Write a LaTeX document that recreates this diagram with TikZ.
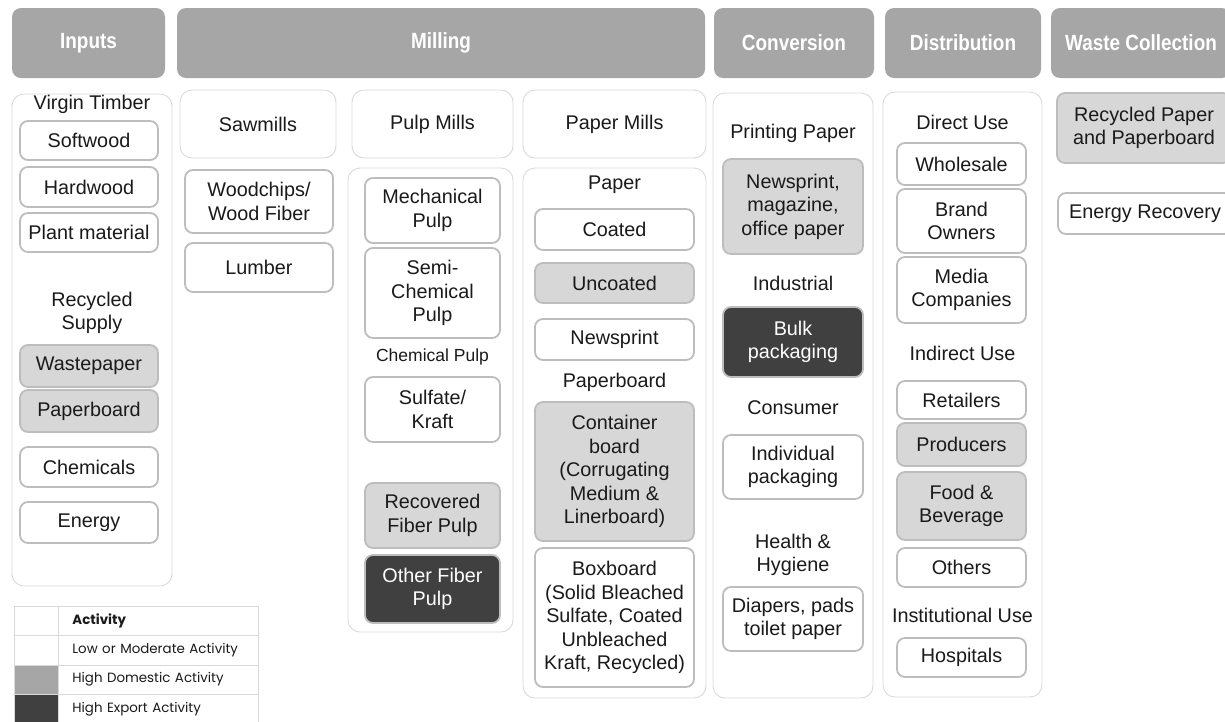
\documentclass[tikz,border=0pt]{standalone}
\usepackage{fontspec}
\setmainfont{Liberation Sans}
\newfontfamily\headfont[FakeStretch=0.86]{Liberation Sans}
\newfontfamily\legfont{Poppins}
\usepackage{xcolor}

\definecolor{ink}{HTML}{1A1A1A}
\definecolor{headgray}{HTML}{A6A6A6}
\definecolor{colline}{HTML}{DADADA}
\definecolor{boxline}{HTML}{BDBDBD}
\definecolor{domgray}{HTML}{D7D7D7}
\definecolor{expgray}{HTML}{404040}
\definecolor{keyline}{HTML}{D9D9D9}

\begin{document}
\begin{tikzpicture}[x=1pt, y=-1pt,
    every node/.style={font=\fontsize{19.8}{23.5}\selectfont, text=ink, inner sep=0pt, align=center},
    head/.style={fill=headgray, rounded corners=9pt, text=white, minimum height=70pt,
                 font=\headfont\bfseries\fontsize{22}{26}\selectfont},
    col/.style={draw=colline, line width=0.9pt, rounded corners=12pt, fill=white},
    item/.style={draw=boxline, line width=1.8pt, rounded corners=8pt, fill=white},
    dom/.style={item, fill=domgray},
    expo/.style={item, fill=expgray, text=white},
    small/.style={font=\fontsize{17.5}{21}\selectfont},
    key/.style={draw=keyline, line width=0.8pt, minimum height=29.3pt, anchor=north west,
                font=\legfont\fontsize{13.4}{15}\selectfont, text=ink}]
    \useasboundingbox (0,0) rectangle (1225,721);
    \clip (0,0) rectangle (1225,721);

    % stage headers
    \node[head, minimum width=153pt] (hIn)    at (88.5,43)  {Inputs};
    \node[head, minimum width=528pt] (hMill)  at (441,43)   {Milling};
    \node[head, minimum width=160pt] (hConv)  at (794,43)   {Conversion};
    \node[head, minimum width=156pt] (hDist)  at (963,43)   {Distribution};
    \node[head, minimum width=180pt] (hWaste) at (1141,43)  {Waste Collection};

    % inputs
    \node[col, minimum width=160pt, minimum height=492pt] (cIn) at (92,340) {};
    \node (virgin) at (92,104) {Virgin Timber};
    \node[item, minimum width=138pt, minimum height=39pt] (soft)  at (89,140.5) {Softwood};
    \node[item, minimum width=138pt, minimum height=40pt] (hard)  at (89,187)   {Hardwood};
    \node[item, minimum width=138pt, minimum height=39pt] (plant) at (89,232.5) {Plant material};
    \node (recyc) at (92,313) {Recycled\\Supply};
    \node[dom,  minimum width=138pt, minimum height=42pt] (waste) at (89,366)   {Wastepaper};
    \node[dom,  minimum width=138pt, minimum height=42pt] (pboard) at (89,411)  {Paperboard};
    \node[item, minimum width=138pt, minimum height=40pt] (chem)  at (89,467)   {Chemicals};
    \node[item, minimum width=138pt, minimum height=41pt] (energy) at (89,522.5) {Energy};

    % sawmills
    \node[col, minimum width=156pt, minimum height=68pt] (sawHd) at (258,124) {Sawmills};
    \node[item, minimum width=148pt, minimum height=63pt] (chips)  at (259,201.5) {Woodchips/\\Wood Fiber};
    \node[item, minimum width=148pt, minimum height=49pt] (lumber) at (259,267.5) {Lumber};

    % pulp mills
    \node[col, minimum width=161pt, minimum height=68pt]  (pulpHd) at (432.5,124) {Pulp Mills};
    \node[col, minimum width=165pt, minimum height=464pt] (cPulp)  at (430.5,400) {};
    \node[item, minimum width=135pt, minimum height=65pt] (mech)  at (432.5,210.5) {Mechanical\\Pulp};
    \node[item, minimum width=135pt, minimum height=90pt] (semi)  at (432.5,293)   {Semi-\\Chemical\\Pulp};
    \node[small] (chemPulp) at (432.5,357) {Chemical Pulp};
    \node[item, minimum width=135pt, minimum height=65pt] (kraft) at (432.5,409.5) {Sulfate/\\Kraft};
    \node[dom,  minimum width=135pt, minimum height=65pt] (recov) at (432.5,515.5) {Recovered\\Fiber Pulp};
    \node[expo, minimum width=135pt, minimum height=68pt] (other) at (432.5,589)   {Other Fiber\\Pulp};

    % paper mills
    \node[col, minimum width=183pt, minimum height=68pt]  (paperHd) at (614.5,124) {Paper Mills};
    \node[col, minimum width=183pt, minimum height=530pt] (cPaper)  at (614.5,433) {};
    \node (paper) at (614.5,185) {Paper};
    \node[item, minimum width=159pt, minimum height=41pt] (coated)   at (614.5,229.5) {Coated};
    \node[dom,  minimum width=159pt, minimum height=40pt] (uncoated) at (614.5,283)   {Uncoated};
    \node[item, minimum width=159pt, minimum height=41pt] (news)     at (614.5,339.5) {Newsprint};
    \node (pbLabel) at (614.5,382) {Paperboard};
    \node[dom,  minimum width=159pt, minimum height=139pt] (contain) at (614.5,471.5)
        {Container\\board\\(Corrugating\\Medium \&\\Linerboard)};
    \node[item, minimum width=159pt, minimum height=139pt] (boxb) at (614.5,617.5)
        {Boxboard\\(Solid Bleached\\Sulfate, Coated\\Unbleached\\Kraft, Recycled)};

    % conversion
    \node[col, minimum width=160pt, minimum height=605pt] (cConv) at (793,395.5) {};
    \node (printing) at (793,133) {Printing Paper};
    \node[dom,  minimum width=140pt, minimum height=95pt] (mags) at (793,206.5) {Newsprint,\\magazine,\\office paper};
    \node (indus) at (793,283) {Industrial};
    \node[expo, minimum width=140pt, minimum height=70pt] (bulk) at (793,342) {Bulk\\packaging};
    \node (consum) at (793,408) {Consumer};
    \node[item, minimum width=140pt, minimum height=64pt] (indiv) at (793,467) {Individual\\packaging};
    \node (health) at (793,555) {Health \&\\Hygiene};
    \node[item, minimum width=140pt, minimum height=64pt] (diapers) at (793,619) {Diapers, pads\\toilet paper};

    % distribution
    \node[col, minimum width=159pt, minimum height=605pt] (cDist) at (962.5,394.5) {};
    \node (direct) at (962.5,122) {Direct Use};
    \node[item, minimum width=129pt, minimum height=42pt] (whole)  at (961.5,164)   {Wholesale};
    \node[item, minimum width=129pt, minimum height=64pt] (brand)  at (961.5,221)   {Brand\\Owners};
    \node[item, minimum width=129pt, minimum height=66pt] (media)  at (961.5,290)   {Media\\Companies};
    \node (indirect) at (962.5,353) {Indirect Use};
    \node[item, minimum width=129pt, minimum height=38pt] (retail) at (961.5,400)   {Retailers};
    \node[dom,  minimum width=129pt, minimum height=43pt] (prod)   at (961.5,444.5) {Producers};
    \node[dom,  minimum width=129pt, minimum height=68pt] (food)   at (961.5,506)   {Food \&\\Beverage};
    \node[item, minimum width=129pt, minimum height=39pt] (others) at (961.5,567.5) {Others};
    \node (instit) at (962.5,615) {Institutional Use};
    \node[item, minimum width=129pt, minimum height=39pt] (hosp)   at (961.5,657.5) {Hospitals};

    % waste collection
    \node[dom,  minimum width=174pt, minimum height=70pt] (recPaper) at (1144,128)   {Recycled Paper\\and Paperboard};
    \node[item, minimum width=174pt, minimum height=41pt] (enRec)    at (1145,213.5) {Energy Recovery};

    % legend
    \node[key, minimum width=44pt] (k1a) at (14,606)   {};
    \node[key, text width=172pt, inner xsep=14pt, align=left] (k1b) at (58,606) {\bfseries Activity};
    \node[key, minimum width=44pt] (k2a) at (14,635.3) {};
    \node[key, text width=172pt, inner xsep=14pt, align=left] (k2b) at (58,635.3) {Low or Moderate Activity};
    \node[key, minimum width=44pt, fill=headgray] (k3a) at (14,664.6) {};
    \node[key, text width=172pt, inner xsep=14pt, align=left] (k3b) at (58,664.6) {High Domestic Activity};
    \node[key, minimum width=44pt, fill=expgray] (k4a) at (14,693.9) {};
    \node[key, text width=172pt, inner xsep=14pt, align=left] (k4b) at (58,693.9) {High Export Activity};
\end{tikzpicture}
\end{document}
